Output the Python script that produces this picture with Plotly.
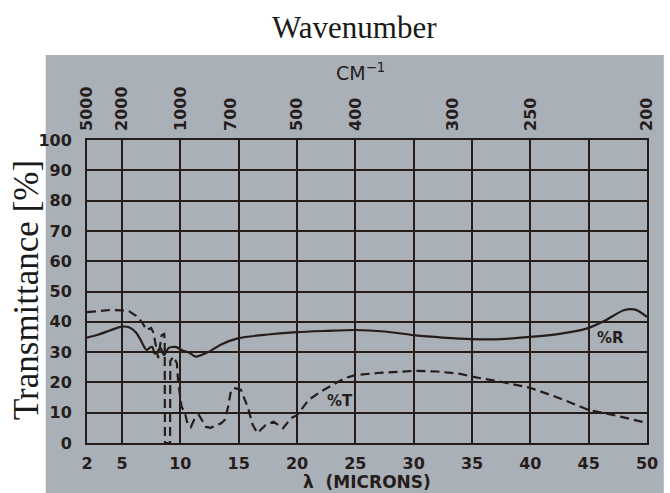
import plotly.graph_objects as go

# Wavelength axis (microns) and the two measured curves
r_wavelength = [2, 3, 4, 5, 5.6, 6.2, 6.6, 6.9, 7.1, 7.4, 7.6, 7.8, 8.0, 8.3, 8.6, 9.0,
                9.6, 10.1, 10.8, 11.3, 12.4, 13.5, 15, 17.5, 20, 22.5, 25, 27.5, 30,
                32.5, 35, 37.5, 40, 42.5, 44, 45, 46.5, 48, 49, 50]
r_percent = [34.8, 35.8, 37.2, 38.4, 38.2, 36.5, 34.0, 31.7, 30.7, 31.5, 31.7, 29.5, 30.0,
             31.4, 29.0, 31.4, 31.7, 30.7, 29.7, 28.5, 30.0, 32.5, 34.6, 35.8, 36.6, 37.0,
             37.3, 36.8, 35.6, 34.8, 34.3, 34.3, 35.0, 36.0, 37.0, 38.0, 40.6, 43.8, 44.0, 41.6]

t_wavelength = [2, 3, 4, 5, 5.6, 6.2, 6.7, 7.1, 7.5, 7.7, 7.9, 8.1, 8.4, 8.62, 8.66, 8.68,
                9.12, 9.14, 9.4, 9.7, 9.8, 10.1, 10.4, 10.6, 10.9, 11.3, 11.6, 12.2, 12.6,
                13.0, 13.5, 13.8, 14.1, 14.3, 14.6, 15.2, 15.8, 16.2, 16.6, 17.3, 18.0, 18.8,
                19.5, 20, 21, 22, 23.3, 24.1, 25, 26.9, 30, 32, 34, 35, 37.5, 40, 42.5, 45,
                47.5, 50]
t_percent = [43.2, 43.6, 43.9, 43.8, 43.5, 42.0, 40.0, 37.3, 38.0, 36.3, 31.7, 28.0, 35.6,
             36.0, 33.0, 0.0, 0.0, 27.0, 28.5, 26.4, 20.8, 12.0, 9.9, 6.6, 5.3, 8.6, 9.2, 5.3,
             5.0, 5.6, 6.5, 7.6, 12.0, 16.5, 18.2, 17.5, 11.6, 6.0, 3.3, 5.9, 7.0, 4.9, 8.2,
             9.2, 14.2, 16.9, 19.8, 21.4, 22.4, 23.1, 23.8, 23.6, 22.8, 21.9, 20.2, 18.2,
             14.8, 10.9, 8.9, 6.6]

# Tick labels
micron_ticks = [2, 5, 10, 15, 20, 25, 30, 35, 40, 45, 50]
wavenumber_ticks = [5000, 2000, 1000, 700, 500, 400, 300, 250, 200]
percent_ticks = [0, 10, 20, 30, 40, 50, 60, 70, 80, 90, 100]

INK = "#261d1b"
PANEL = "#a9b0b8"
tick_font = dict(family="DejaVu Sans", size=16, color=INK, weight="bold")

fig = go.Figure()
fig.add_trace(go.Scatter(x=r_wavelength, y=r_percent, mode="lines",
                         line=dict(color=INK, width=2.2, shape="spline", smoothing=0.7),
                         showlegend=False, hoverinfo="skip"))
fig.add_trace(go.Scatter(x=t_wavelength, y=t_percent, mode="lines",
                         line=dict(color=INK, width=2.2, dash="9px,5px"),
                         showlegend=False, hoverinfo="skip"))
# invisible trace to activate the top wavenumber axis
fig.add_trace(go.Scatter(x=[2, 50], y=[0, 0], xaxis="x2", mode="lines",
                         line=dict(width=0), showlegend=False, hoverinfo="skip"))

fig.update_layout(
    width=670, height=493,
    margin=dict(l=87, r=13, t=140, b=50),
    paper_bgcolor="white",
    plot_bgcolor="rgba(0,0,0,0)",
    xaxis=dict(range=[2, 50], tickvals=micron_ticks, ticktext=[str(v) for v in micron_ticks],
               showgrid=True, gridcolor=INK, gridwidth=1.8, zeroline=False,
               showline=True, linecolor=INK, linewidth=2, mirror=True,
               ticks="", tickfont=tick_font, ticklabelstandoff=5),
    xaxis2=dict(range=[2, 50], overlaying="x", side="top",
                tickvals=[1e4 / w for w in wavenumber_ticks],
                ticktext=[str(w) for w in wavenumber_ticks],
                tickangle=-90, showgrid=False, zeroline=False, showline=False,
                ticks="", tickfont=tick_font, ticklabelstandoff=8),
    yaxis=dict(range=[0, 100], tickvals=percent_ticks, ticktext=[str(v) for v in percent_ticks],
               showgrid=True, gridcolor=INK, gridwidth=1.8, zeroline=False,
               showline=True, linecolor=INK, linewidth=2, mirror=True,
               ticks="", tickfont=tick_font, ticklabelstandoff=10),
    shapes=[dict(type="rect", xref="paper", yref="paper",
                 x0=-0.0737, x1=1.03, y0=-0.17, y1=1.2805,
                 fillcolor=PANEL, line=dict(width=0), layer="below")],
    annotations=[
        dict(text="Wavenumber", xref="paper", yref="paper", x=0.478, y=1.37,
             xanchor="center", yanchor="middle", showarrow=False,
             font=dict(family="Liberation Serif", size=31, color="#1a1a1a")),
        dict(text="Transmittance [%]", xref="paper", yref="paper", x=-0.107, y=0.505,
             xanchor="center", yanchor="middle", textangle=-90, showarrow=False,
             font=dict(family="Liberation Serif", size=35, color="#1a1a1a")),
        dict(text="CM<sup>−1</sup>", xref="paper", yref="paper", x=0.4877, y=1.224,
             xanchor="center", yanchor="middle", showarrow=False,
             font=dict(family="DejaVu Sans", size=19, color=INK)),
        dict(text="λ  (MICRONS)", xref="paper", yref="paper", x=0.5, y=-0.129,
             xanchor="center", yanchor="middle", showarrow=False,
             font=dict(family="DejaVu Sans", size=17, color=INK, weight="bold")),
        dict(text="%R", x=46.9, y=34.7, xref="x", yref="y", showarrow=False,
             font=dict(family="DejaVu Sans", size=15, color=INK, weight="bold")),
        dict(text="%T", x=23.7, y=13.9, xref="x", yref="y", showarrow=False,
             font=dict(family="DejaVu Sans", size=15, color=INK, weight="bold")),
    ],
)

fig.write_html("out.html")
